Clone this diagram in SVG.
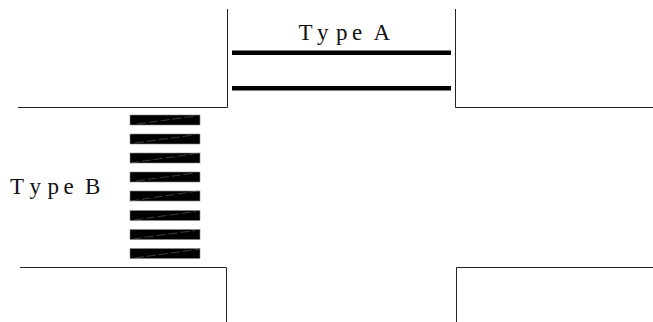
<svg xmlns="http://www.w3.org/2000/svg" width="653" height="322" viewBox="0 0 653 322">
<style>
.road{fill:none;stroke:#222;stroke-width:1}
.stop{fill:none;stroke:#000;stroke-width:4.6}
.bar{fill:#000;stroke:#888;stroke-width:.6}
.gap{fill:none;stroke:#666;stroke-width:.6;stroke-dasharray:9 3}
text{font-family:"Liberation Serif","Times New Roman",serif;font-size:23px;fill:#111}
</style>
<rect width="653" height="322" fill="#fff"/>
<g id="roads">
<path class="road" d="M18 107.500H227.500V9"/>
<path class="road" d="M653 107.500H455.500V9"/>
<path class="road" d="M20 267.500H226.500V322"/>
<path class="road" d="M653 267.500H456.500V322"/>
</g>
<g id="type-a">
<line class="stop" x1="232" y1="52.700" x2="451" y2="52.700"/>
<line class="stop" x1="232" y1="88.300" x2="451" y2="88.300"/>
<text x="298.500 317 336 352 365 373.500" y="40">Type A</text>
</g>
<g id="type-b">
<rect class="bar" x="130" y="115" width="70" height="10"/>
<rect class="bar" x="130" y="134" width="70" height="10"/>
<rect class="bar" x="130" y="153" width="70" height="10"/>
<rect class="bar" x="130" y="172" width="70" height="10"/>
<rect class="bar" x="130" y="191" width="70" height="10"/>
<rect class="bar" x="130" y="210.500" width="70" height="10"/>
<rect class="bar" x="130" y="229.500" width="70" height="10"/>
<rect class="bar" x="130" y="248.500" width="70" height="10"/>
<path class="gap" d="M137 124 196 116M135 143 194 135M130 163 200 153M136 181 195 173M130 201 198 191M134 220 196 211.500M133 239 195 230.500M135 258 200 249"/>
<text x="10 29.500 47.500 63.500 76 85" y="194">Type B</text>
</g>
</svg>
